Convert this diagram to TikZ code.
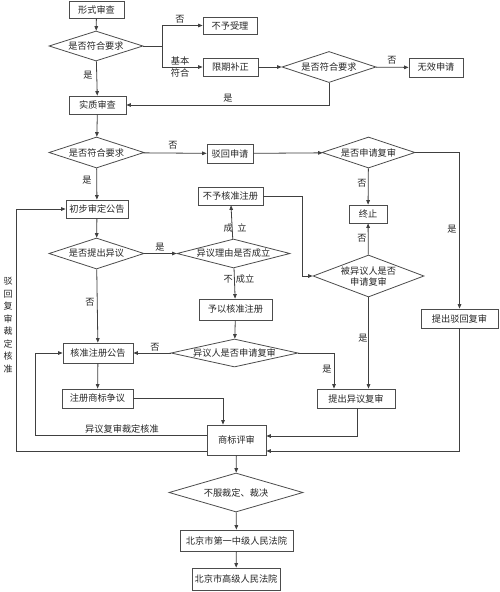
\documentclass[tikz,border=0pt]{standalone}
\usepackage{fontspec}
\newfontfamily\cjk{Noto Sans CJK SC}
\usetikzlibrary{shapes.geometric,arrows.meta}
\begin{document}
\begin{tikzpicture}[x=1pt,y=-1pt,
  every node/.style={font=\cjk\fontsize{9.2}{11}\selectfont, text=black!85},
  box/.style={draw=black!70, line width=0.8pt, rectangle, inner sep=0pt},
  dia/.style={draw=black!70, line width=0.8pt, diamond, inner sep=0pt, align=center},
  lab/.style={inner sep=0pt},
  conn/.style={draw=black!75, line width=0.8pt},
  arr/.style={conn, -{Triangle[length=4.5pt,width=3.6pt]}}
]
\useasboundingbox (0,0) rectangle (499,592);
\fill[white] (0,0) rectangle (499,592);

% boxes
\node[box, minimum width=55pt, minimum height=17pt] (b1) at (96.5,9.5) {形式审查};
\node[box, minimum width=54pt, minimum height=17pt] (b2) at (230,25.5) {不予受理};
\node[box, minimum width=55pt, minimum height=18pt] (b3) at (230.5,67) {限期补正};
\node[box, minimum width=54pt, minimum height=19pt] (b4) at (436,67.5) {无效申请};
\node[box, minimum width=57pt, minimum height=18pt] (b5) at (97.5,105) {实质审查};
\node[box, minimum width=46pt, minimum height=19pt] (b6) at (230,153.5) {驳回申请};
\node[box, minimum width=62pt, minimum height=18pt] (b7) at (97,209) {初步审定公告};
\node[box, minimum width=65pt, minimum height=18pt] (b8) at (230.5,196) {不予核准注册};
\node[box, minimum width=38pt, minimum height=18pt] (b9) at (368,214) {终止};
\node[box, minimum width=73pt, minimum height=21pt] (b10) at (235.5,309.5) {予以核准注册};
\node[box, minimum width=77pt, minimum height=19pt] (b11) at (459.5,318.5) {提出驳回复审};
\node[box, minimum width=70pt, minimum height=20pt] (b12) at (98,353) {核准注册公告};
\node[box, minimum width=71pt, minimum height=19pt] (b13) at (97.5,398.5) {注册商标争议};
\node[box, minimum width=78pt, minimum height=19pt] (b14) at (356,398.5) {提出异议复审};
\node[box, minimum width=59pt, minimum height=30pt] (b15) at (236.5,440) {商标评审};
\node[box, minimum width=113pt, minimum height=21pt] (b16) at (236.5,540.5) {北京市第一中级人民法院};
\node[box, minimum width=88pt, minimum height=22pt] (b17) at (236,579) {北京市高级人民法院};

% diamonds
\node[dia, aspect=3.1, minimum width=94pt, minimum height=30pt] (d1) at (96,46) {是否符合要求};
\node[dia, aspect=3.1, minimum width=94pt, minimum height=31pt] (d2) at (329,67) {是否符合要求};
\node[dia, aspect=3.1, minimum width=95pt, minimum height=31pt] (d3) at (96.5,152.5) {是否符合要求};
\node[dia, aspect=3.0, minimum width=93pt, minimum height=31pt] (d7) at (368.5,152.5) {是否申请复审};
\node[dia, aspect=3.1, minimum width=95pt, minimum height=31pt] (d4) at (96.5,253.5) {是否提出异议};
\node[dia, aspect=3.9, inner xsep=-2pt, minimum width=113pt, minimum height=29pt] (d5) at (233.5,253.5) {异议理由是否成立};
\node[dia, aspect=2.64, minimum width=111pt, minimum height=42pt] (d6) at (368.5,276) {被异议人是否\\申请复审};
\node[dia, aspect=4.54, inner xsep=-1pt, minimum width=127pt, minimum height=28pt] (d8) at (234.5,353) {异议人是否申请复审};
\node[dia, aspect=3.44, minimum width=134pt, minimum height=39pt] (d9) at (236,492.5) {不服裁定、裁决};

% junction coordinates
\coordinate (j1) at (162,46);
\coordinate (j2) at (302,196);

% connectors
\draw[arr] (b1) -- (d1);
\draw[conn] (d1.east) -- (j1);
\draw[arr] (j1) |- (b2.west);
\draw[arr] (j1) |- (b3.west);
\draw[arr] (d1) -- (b5);
\draw[arr] (b3) -- (d2);
\draw[arr] (d2) -- (b4);
\draw[arr] (d2.south) |- (b5.east);
\draw[arr] (b5) -- (d3);
\draw[arr] (d3) -- (b6);
\draw[arr] (d3) -- (b7);
\draw[arr] (b6) -- (d7);
\draw[arr] (d7) -- (b9);
\draw[arr] (d7.east) -| (b11.north);
\draw[arr] (b7) -- (d4);
\draw[arr] (d4) -- (d5);
\draw[arr] (d5) -- (b8);
\draw[arr] (d5) -- (b10);
\draw[conn] (b8.east) -- (j2);
\draw[arr] (j2) |- (d6.west);
\draw[arr] (d6) -- (b9);
\draw[arr] (d6.south) -- (d6.south |- b14.north);
\draw[arr] (d4) -- (b12);
\draw[arr] (b10) -- (d8);
\draw[arr] (d8) -- (b12);
\draw[arr] (d8.east) -| ([xshift=-22pt]b14.north);
\draw[arr] (b12) -- (b13);
\draw[arr] (b13.east) -| ([xshift=-13.5pt]b15.north);
\draw[arr] ([yshift=5pt]b15.west) -- (35,435) |- (b12.west);
\draw[arr] ([yshift=-11pt]b15.west) -- (16,451) |- (b7.west);
\draw[arr] ([xshift=1pt]b14.south) |- ([yshift=4pt]b15.east);
\draw[arr] (b11.south) |- ([yshift=-11pt]b15.east);
\draw[arr] (b15) -- (d9);
\draw[arr] (d9) -- (b16);
\draw[arr] (b16) -- (b17);

% labels
\node[lab] (l1) at (180,19) {否};
\node[lab, align=center, font=\cjk\fontsize{9.2}{12}\selectfont] (l2) at (180,67) {基本\\符合};
\node[lab] (l3) at (88,75) {是};
\node[lab] (l4) at (392,60) {否};
\node[lab] (l5) at (228,98) {是};
\node[lab] (l6) at (173,145) {否};
\node[lab] (l7) at (87,180) {是};
\node[lab] (l8) at (362,183) {否};
\node[lab] (l9) at (452,229) {是};
\node[lab] (l10) at (362,238) {否};
\node[lab] (l11) at (160,247) {是};
\node[lab] (l12) at (235,228) {成\hspace{4.5pt}立};
\node[lab] (l13) at (239,279) {不\hspace{3pt}成立};
\node[lab] (l14) at (90,302) {否};
\node[lab] (l15) at (155,347) {否};
\node[lab] (l16) at (363,338) {是};
\node[lab] (l17) at (327,369) {是};
\node[lab] (l18) at (122,429) {异议复审裁定核准};
\node[lab, align=center, font=\cjk\fontsize{9}{12.5}\selectfont] (l19) at (8,325) {驳\\回\\复\\审\\裁\\定\\核\\准};
\end{tikzpicture}
\end{document}
